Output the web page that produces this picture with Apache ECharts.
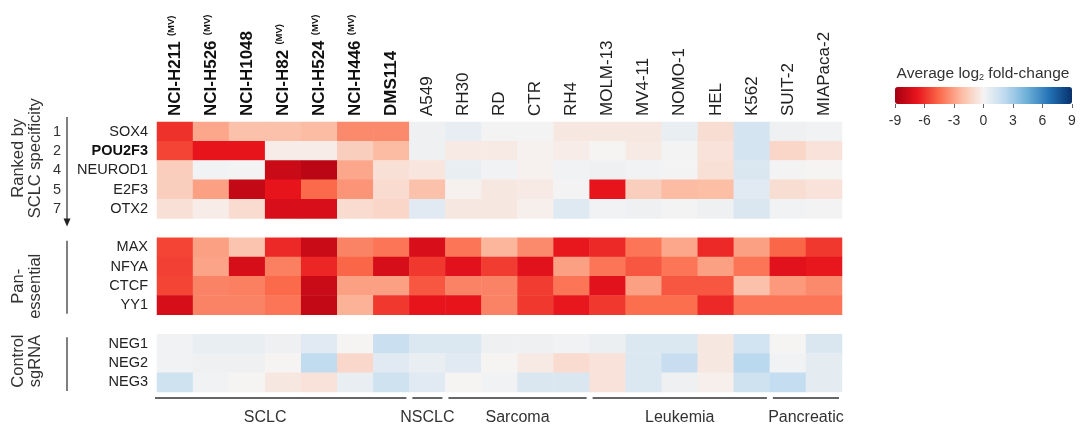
<!DOCTYPE html>
<html><head><meta charset="utf-8">
<script src="https://cdn.jsdelivr.net/npm/echarts@6/dist/echarts.min.js"></script>
<style>html,body{margin:0;padding:0;background:#fff}#c{width:1081px;height:430px}</style>
</head><body><div id="c"></div>
<script>
// ---------- data ----------
const cellLines = ['NCI-H211','NCI-H526','NCI-H1048','NCI-H82','NCI-H524','NCI-H446','DMS114','A549','RH30','RD','CTR','RH4','MOLM-13','MV4-11','NOMO-1','HEL','K562','SUIT-2','MIAPaca-2'];
const boldLines = ['NCI-H211','NCI-H526','NCI-H1048','NCI-H82','NCI-H524','NCI-H446','DMS114'];
const mvLines = ['NCI-H211','NCI-H526','NCI-H82','NCI-H524','NCI-H446'];
const genes = ['SOX4','POU2F3','NEUROD1','E2F3','OTX2',' ','MAX','NFYA','CTCF','YY1','  ','NEG1','NEG2','NEG3'];
const boldGenes = ['POU2F3'];
const rankNumbers = ['1','2','4','5','7'];
const colorTicks = [-9,-6,-3,0,3,6,9];

const SOX4    = [-6.0,-2.8,-2.0,-2.0,-2.2,-3.6,-3.6, 0.3, 0.6, 0.1, 0.1,-0.5,-0.5,-0.5, 0.5,-0.9, 1.3, 0.3, 0.2];
const POU2F3  = [-5.5,-6.8,-6.8,-0.3,-0.3,-1.5,-2.2, 0.3,-0.4,-0.4,-0.1,-0.3, 0.0,-0.4, 0.1,-0.7, 1.3,-1.2,-0.7];
const NEUROD1 = [-1.5, 0.2, 0.1,-7.8,-8.3,-2.8,-0.8,-0.6, 0.5, 0.2,-0.1, 0.2, 0.3, 0.2, 0.1,-0.8, 1.1, 0.1, 0.0];
const E2F3    = [-1.5,-3.0,-8.0,-6.8,-4.5,-3.3,-1.0,-2.0,-0.1,-0.5,-0.4, 0.1,-6.8,-1.5,-2.2,-2.1, 0.8,-0.9,-0.7];
const OTX2    = [-0.8,-0.3,-1.0,-7.3,-7.3,-1.0,-1.2, 0.8,-0.5,-0.5,-0.2, 0.9, 0.2, 0.3, 0.1, 0.3, 1.1, 0.2, 0.1];
const MAX     = [-5.5,-3.0,-1.9,-6.2,-7.8,-3.8,-4.2,-7.3,-4.2,-2.4,-3.6,-6.7,-6.2,-4.2,-2.8,-6.2,-3.0,-4.6,-5.8];
const NFYA    = [-5.6,-2.9,-7.4,-3.9,-6.3,-4.6,-7.4,-5.8,-7.0,-5.7,-7.0,-3.0,-4.2,-5.0,-4.2,-3.0,-4.2,-7.0,-6.7];
const CTCF    = [-5.5,-3.8,-3.9,-4.5,-7.8,-3.0,-3.0,-5.0,-3.8,-3.8,-5.7,-4.2,-7.0,-3.0,-5.0,-5.0,-2.0,-3.2,-3.6];
const YY1     = [-7.4,-3.8,-3.8,-4.2,-8.0,-2.5,-5.8,-6.8,-6.8,-3.8,-5.8,-6.7,-5.8,-4.4,-4.4,-6.2,-4.2,-4.2,-4.2];
const NEG1    = [ 0.2, 0.5, 0.5, 0.3, 0.8, 0.0, 1.7, 1.0, 1.0, 0.3, 0.3, 0.2, 0.4, 1.0, 1.0,-0.5, 1.4, 0.0, 1.1];
const NEG2    = [ 0.2, 0.3, 0.3, 0.0, 2.0,-1.1, 0.8, 0.5, 0.8, 0.0,-0.4,-1.0,-0.7, 1.0, 1.8,-0.5, 2.3, 0.2, 0.7];
const NEG3    = [ 1.5, 0.2, 0.0,-0.5,-0.7, 0.5, 1.5, 0.8, 0.0, 0.2, 1.1, 1.1,-0.7, 1.0, 0.3,-0.2, 1.5, 1.9, 0.7];

const groupNames = ['SCLC','NSCLC','Sarcoma','Leukemia','Pancreatic'];
const groupFirst = ['NCI-H211','A549','RH30','MOLM-13','SUIT-2'];
const groupLast  = ['DMS114','A549','RH4','K562','MIAPaca-2'];

// ---------- build ----------
const rowValues = {SOX4, POU2F3, NEUROD1, E2F3, OTX2, MAX, NFYA, CTCF, YY1, NEG1, NEG2, NEG3};
const data = [];
genes.forEach((g, yi) => {
  const vals = rowValues[g];
  if (!vals) return;
  vals.forEach((v, xi) => data.push([xi, yi, v]));
});

const FF = '"Liberation Sans", Arial, sans-serif';
const chart = echarts.init(document.getElementById('c'), null, {renderer: 'canvas'});

chart.setOption({
  animation: false,
  backgroundColor: '#fff',
  textStyle: {fontFamily: FF},
  grid: [
    {left: 157, right: 239, top: 122, bottom: 38},
    {left: 895, width: 177, top: 87, height: 17}
  ],
  xAxis: [{
    type: 'category', data: cellLines, position: 'top', gridIndex: 0,
    axisLine: {show: false}, axisTick: {show: false}, splitLine: {show: false},
    axisLabel: {
      rotate: -90, margin: 6, interval: 0, color: '#111', fontFamily: FF,
      formatter: v => {
        const b = boldLines.includes(v) ? 'b' : 'n';
        return '{' + b + '|' + v + '}' + (mvLines.includes(v) ? '{s|  (MV)}' : '');
      },
      rich: {
        b: {fontSize: 17, fontWeight: 'bold', color: '#111', fontFamily: FF},
        n: {fontSize: 17, color: '#222', fontFamily: FF},
        s: {fontSize: 9.5, fontWeight: 'bold', color: '#111', fontFamily: FF, padding: [0, 0, 8, 0]}
      }
    }
  }, {
    type: 'value', gridIndex: 1, min: colorTicks[0], max: colorTicks[colorTicks.length - 1],
    interval: colorTicks[1] - colorTicks[0], position: 'bottom',
    axisLine: {show: false}, splitLine: {show: false},
    axisTick: {show: true, length: 4, lineStyle: {color: '#666', width: 1}},
    axisLabel: {color: '#333', fontSize: 14, margin: 10, fontFamily: FF}
  }],
  yAxis: [{
    type: 'category', data: genes, inverse: true, gridIndex: 0,
    axisLine: {show: false}, axisTick: {show: false}, splitLine: {show: false},
    axisLabel: {
      margin: 9, interval: 0, fontFamily: FF,
      formatter: v => v.trim() === '' ? '' : (boldGenes.includes(v) ? '{b|' + v + '}' : '{n|' + v + '}'),
      rich: {
        b: {fontSize: 14.5, fontWeight: 'bold', color: '#111', fontFamily: FF},
        n: {fontSize: 14.5, color: '#222', fontFamily: FF}
      }
    }
  }, {
    type: 'value', gridIndex: 1, show: false, min: 0, max: 1
  }],
  visualMap: {
    type: 'continuous', min: -9, max: 9, orient: 'horizontal',
    left: 895, top: 87, itemWidth: 17, itemHeight: 177, padding: 0,
    calculable: false, hoverLink: false, seriesIndex: 0,
    inRange: {color: ['#a50012','#e8141c','#fb6a4a','#fcbba1','#f6f4f3','#bcd9ef','#6baed6','#2171b5','#08306b']}
  },
  series: [{
    type: 'heatmap', xAxisIndex: 0, yAxisIndex: 0, data: data,
    itemStyle: {borderWidth: 0}, emphasis: {disabled: true}, silent: true
  }],
  graphic: []
});

// ---------- annotations positioned through the axes ----------
const xc = i => chart.convertToPixel({xAxisIndex: 0}, i);
const yc = i => chart.convertToPixel({yAxisIndex: 0}, i);
const bw = xc(1) - xc(0);
const bh = Math.abs(yc(1) - yc(0));
const gfx = [];
const lineColor = '#555';

// bottom group brackets
const yBottom = yc(genes.length - 1) + bh / 2;
groupNames.forEach((name, k) => {
  const a = cellLines.indexOf(groupFirst[k]), b = cellLines.indexOf(groupLast[k]);
  const x1 = xc(a) - bw / 2 + 3, x2 = xc(b) + bw / 2 - 3;
  gfx.push({type: 'line', shape: {x1: k === 0 ? x1 - 5 : x1, y1: yBottom + 6, x2: x2, y2: yBottom + 6},
            style: {stroke: '#666', lineWidth: 2}});
  const lx = k === 0 ? (xc(2) + xc(3)) / 2 : (x1 + x2) / 2;
  gfx.push({type: 'text', x: lx, y: yBottom + 26,
            style: {text: name, fontSize: 16, fill: '#333', fontFamily: FF, align: 'center', verticalAlign: 'middle'}});
});

// left blocks
const blocks = [
  {first: 'SOX4', last: 'OTX2', text: 'Ranked by\nSCLC specificity', arrow: true},
  {first: 'MAX', last: 'YY1', text: 'Pan-\nessential', arrow: false},
  {first: 'NEG1', last: 'NEG3', text: 'Control\nsgRNA', arrow: false}
];
const lx0 = 67;
blocks.forEach(bk => {
  const top = yc(genes.indexOf(bk.first)) - bh / 2;
  const bot = yc(genes.indexOf(bk.last)) + bh / 2;
  let y1, y2, cy;
  if (bk.arrow) { y1 = top - 5; y2 = bot + 1; cy = (top + bot) / 2 - 12; }
  else { y1 = top + 3; y2 = bot - 1; cy = (top + bot) / 2 + (bk.first === 'MAX' ? 10 : -2); }
  gfx.push({type: 'line', shape: {x1: lx0, y1: y1, x2: lx0, y2: y2}, style: {stroke: lineColor, lineWidth: 1.5}});
  if (bk.arrow) {
    gfx.push({type: 'polygon', shape: {points: [[lx0 - 3.5, y2 - 1], [lx0 + 3.5, y2 - 1], [lx0, y2 + 7]]},
              style: {fill: '#222'}});
  }
  gfx.push({type: 'text', x: 27, y: cy, rotation: Math.PI / 2,
            style: {text: bk.text, fontSize: 16.5, lineHeight: 16.5, fill: '#333', fontFamily: FF,
                    align: 'center', verticalAlign: 'middle'}});
});
// rank numbers
rankNumbers.forEach((n, i) => {
  gfx.push({type: 'text', x: 57, y: yc(i),
            style: {text: n, fontSize: 14.5, fill: '#333', fontFamily: FF, align: 'center', verticalAlign: 'middle'}});
});
// colorbar title
gfx.push({type: 'text', x: 983, y: 74,
          style: {text: '{t|Average log}{s|2}{t| fold-change}', align: 'center', verticalAlign: 'middle',
                  rich: {t: {fontSize: 15.5, fill: '#333', fontFamily: FF},
                         s: {fontSize: 9, fill: '#333', fontFamily: FF, padding: [8, 0, 0, 0]}}}});

chart.setOption({graphic: gfx});
</script>
</body></html>
